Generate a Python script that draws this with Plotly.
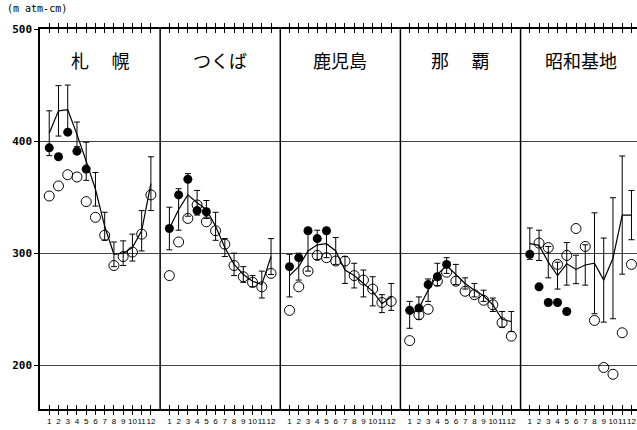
import plotly.graph_objects as go

# ---------------- data ----------------
months = list(range(1, 13))
stations = ["札幌", "つくば", "鹿児島", "那覇", "昭和基地"]
station_labels = ["札\u3000\u2005幌", "つくば", "鹿児島", "那\u3000\u2005覇", "昭和基地"]

mean_sapporo = [407, 427, 428, 406, 382, 357, 324, 299, 300, 305, 320, 362]
sd_sapporo = [20, 22.5, 22, 11, 17, 15, 12.5, 11, 11, 12, 18, 24]
filled_sapporo = [394, 386, 408, 391, 375]
open_sapporo = [351, 360, 370, 368, 346, 332, 316, 289, 297, 301, 317, 352]

mean_tsukuba = [322, 339, 352, 345, 339, 324, 305, 290, 281, 275, 272, 297]
sd_tsukuba = [19, 18.5, 19, 11, 8, 12.5, 8, 10, 7, 5, 12, 16]
filled_tsukuba = [322, 352, 366, 338, 337]
open_tsukuba = [280, 310, 331, 343, 328, 320, 308, 289, 279, 274, 270, 282]

mean_kagoshima = [280, 288, 302, 307.5, 308.5, 302, 285, 280, 273, 266, 255, 261]
sd_kagoshima = [19, 12, 18, 13, 12.5, 12, 12, 11, 12, 13, 8, 12]
filled_kagoshima = [288, 296, 320, 313, 320]
open_kagoshima = [249, 270, 284, 298, 296, 293, 293, 280, 276, 268, 256, 257]

mean_naha = [245, 251, 267, 281, 289, 281, 273, 267, 262, 254, 241, 239]
sd_naha = [12, 10, 10, 10, 7, 9, 5, 6, 5, 6, 7, 9]
filled_naha = [249, 251, 272, 279, 290]
open_naha = [222, 245, 250, 275, 283, 275, 266, 263, 258, 254, 238, 226]

mean_showa = [308.5, 307, 292, 280, 290.5, 285.5, 289.5, 291, 276, 295.5, 334, 334]
sd_showa = [14, 13.5, 14, 12, 19, 12.7, 18, 45, 37.5, 54, 52.7, 22]
filled_showa = [299, 270, 256, 256, 248]
open_showa = [None, 309, 305, 290, 298, 322, 306, 240, 198, 192, 229, 290]

y_ticks = [200, 300, 400, 500]
unit_label = "(m atm-cm)"

means = [mean_sapporo, mean_tsukuba, mean_kagoshima, mean_naha, mean_showa]
sds = [sd_sapporo, sd_tsukuba, sd_kagoshima, sd_naha, sd_showa]
filleds = [filled_sapporo, filled_tsukuba, filled_kagoshima, filled_naha, filled_showa]
opens = [open_sapporo, open_tsukuba, open_kagoshima, open_naha, open_showa]

PANEL = 13  # month slots per station panel (12 months + gap)

fig = go.Figure()
tickvals, ticktext = [], []
for k in range(len(stations)):
    xs = [PANEL * k + m for m in months]
    tickvals += xs
    ticktext += [str(m) for m in months]
    fig.add_trace(go.Scatter(
        x=xs, y=means[k], mode="lines",
        line=dict(color="black", width=1.2),
        error_y=dict(type="data", array=sds[k], color="black", thickness=1, width=3),
        hoverinfo="skip"))
    fig.add_trace(go.Scatter(
        x=xs[:len(filleds[k])], y=filleds[k], mode="markers",
        marker=dict(symbol="circle", size=9, color="black"),
        hoverinfo="skip"))
    fig.add_trace(go.Scatter(
        x=xs, y=opens[k], mode="markers",
        marker=dict(symbol="circle-open", size=10, color="black", line=dict(width=1)),
        hoverinfo="skip"))
    fig.add_annotation(
        x=PANEL * k + 6.5, xref="x", y=0.918, yref="paper",
        text=station_labels[k], showarrow=False,
        font=dict(family="Noto Sans CJK JP", size=18, color="black"),
        xanchor="center", yanchor="middle")
    if k > 0:
        fig.add_shape(type="line", x0=PANEL * k, x1=PANEL * k, xref="x",
                      y0=0, y1=1, yref="paper",
                      line=dict(color="black", width=1.5))

# invisible trace to instantiate overlay axis for crossing ticks
fig.add_trace(go.Scatter(x=[0], y=[None], xaxis="x2", mode="markers",
                         hoverinfo="skip"))

xr = [0, 64.6]
fig.add_annotation(
    x=-0.059, xref="paper", y=1.055, yref="paper",
    text=unit_label, showarrow=False,
    font=dict(family="DejaVu Sans Mono", size=10, color="black"),
    xanchor="left", yanchor="middle")

fig.update_layout(
    width=637, height=430,
    margin=dict(l=40, r=0, t=29, b=21, autoexpand=False),
    paper_bgcolor="white", plot_bgcolor="white",
    showlegend=False,
    xaxis=dict(range=xr, tickvals=tickvals, ticktext=ticktext, automargin=False,
               tickangle=0,
               ticks="outside", ticklen=4, tickwidth=1, tickcolor="black",
               mirror="ticks", showline=True, linecolor="black", linewidth=1.5,
               showgrid=False, zeroline=False,
               tickfont=dict(family="Liberation Sans Narrow, Liberation Sans", size=8, color="black")),
    xaxis2=dict(range=xr, overlaying="x", anchor="y", side="bottom", automargin=False,
                tickvals=tickvals, ticks="inside", ticklen=4, tickwidth=1,
                tickcolor="black", mirror="ticks", showline=False,
                showticklabels=False, showgrid=False, zeroline=False),
    yaxis=dict(range=[161, 500], tickvals=y_ticks, automargin=False,
               ticks="outside", ticklen=4, tickcolor="black",
               showline=True, linecolor="black", linewidth=1.5,
               showgrid=True, gridcolor="#444", gridwidth=1, zeroline=False,
               tickfont=dict(family="DejaVu Sans Mono", size=11, color="black", weight="bold")),
)

fig.write_html("out.html", config={"displayModeBar": False},
               post_script="document.body.style.margin='0';document.body.style.overflow='hidden';")
